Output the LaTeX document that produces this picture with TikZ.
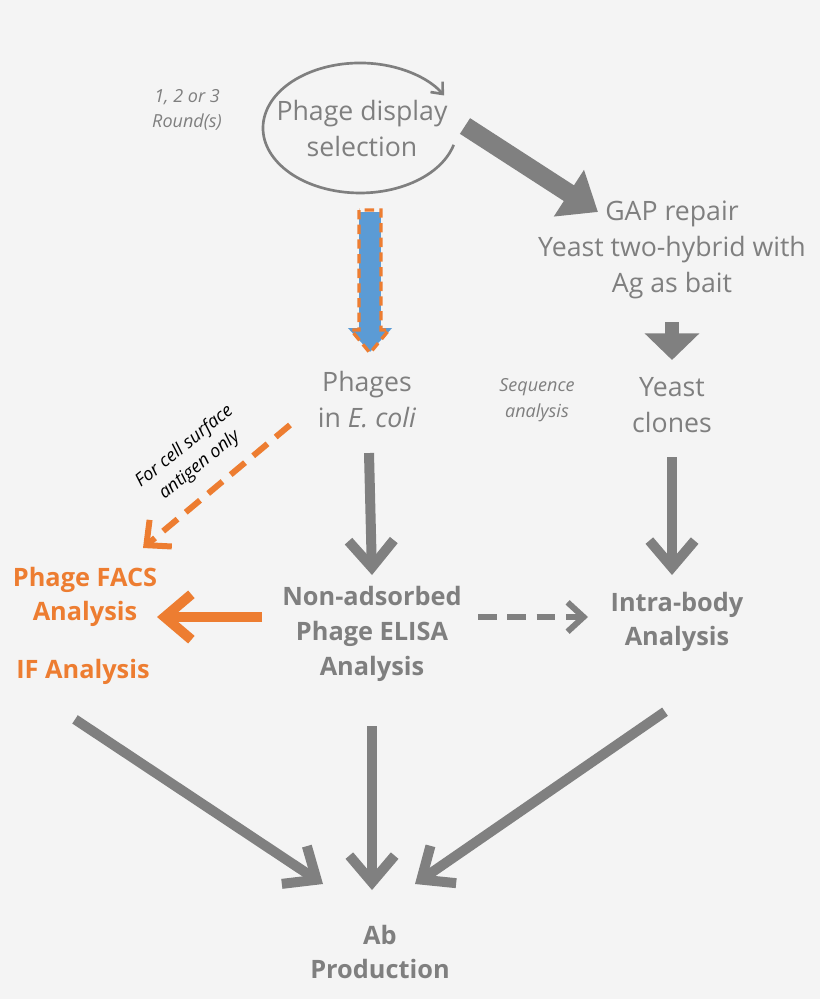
\documentclass[tikz,border=0pt]{standalone}
\usepackage{fontspec}
\setmainfont{Open Sans}
\usetikzlibrary{arrows.meta,positioning}
\definecolor{txtgray}{HTML}{7F7F7F}
\definecolor{arrgray}{HTML}{808080}
\definecolor{bgc}{HTML}{F4F4F4}
\definecolor{orng}{HTML}{ED7D31}
\definecolor{blu}{HTML}{5B9BD5}
\begin{document}
\begin{tikzpicture}[x=0.75pt,y=-0.75pt,
  lbl/.style={text=txtgray,align=center,font=\fontsize{20}{27}\selectfont},
  bold/.style={lbl,font=\fontsize{19}{26}\selectfont\bfseries},
  note/.style={text=txtgray,align=center,font=\fontsize{13.5}{19}\selectfont\itshape},
  flow/.style={draw=arrgray,line width=7.5pt,-{Straight Barb[length=20pt,width=34pt,line width=7.5pt]}},
  fat/.style={draw=arrgray,line width=14pt,-{Triangle[length=26pt,width=40pt]}}]
  \fill[bgc] (0,0) rectangle (820,999);
  \useasboundingbox (0,0) rectangle (820,999);
  % top
  \node[lbl] (sel) at (362,128) {Phage display\\selection};
  \node[note] (rnd) at (187,110) {1, 2 or 3\\Round(s)};
  \draw[txtgray,line width=2pt,-{Straight Barb[length=7pt,width=12pt]}]
    (453.7,144.8) arc[start angle=15,end angle=330,x radius=97,y radius=65];
  \node[lbl] (gap) at (672,250) {GAP repair\\Yeast two-hybrid with\\Ag as bait};
  \draw[fat] (465,126) -- (598,212);
  % middle
  \node[lbl] (phg) at (367,400) {Phages\\in \textit{E. coli}};
  \node[lbl] (yst) at (672,405) {Yeast\\clones};
  \node[note] (seq) at (537,400) {Sequence\\analysis};
  \draw[draw=blu,line width=16pt,-{Triangle[length=18pt,width=32pt]}] (370,212) -- (370,352);
  \draw[orng,line width=2.5pt,dash pattern=on 7pt off 4pt] (359,210) -- (359,330) -- (351,330) -- (370,353) -- (389,330) -- (381,330) -- (381,210) -- cycle;
  \draw[draw=arrgray,line width=11pt,-{Triangle[length=20pt,width=40pt]}] (672,322) -- (672,360);
  % lower
  \node[bold,text=orng] (facs) at (85,597) {Phage FACS\\Analysis};
  \node[bold,text=orng] (ifa) at (83,672) {IF Analysis};
  \node[bold] (elisa) at (372,634) {Non-adsorbed\\Phage ELISA\\Analysis};
  \node[bold] (intra) at (677,622) {Intra-body\\Analysis};
  \node[bold] (ab) at (380,952) {Ab\\Production};
  \node[rotate=39,font=\fontsize{13.5}{18}\selectfont\itshape,align=center] (cell) at (192,456) {For cell surface\\antigen only};
  \draw[orng,line width=4.5pt,dash pattern=on 14pt off 8pt,-{Straight Barb[length=14pt,width=26pt,line width=4.5pt]}] (290,425) -- (143,548);
  \draw[flow] (phg.south) ++(2,20) -- (372,575);
  \draw[flow] (yst.south) ++(0,20) -- (672,575);
  \draw[orng,line width=7.5pt,-{Straight Barb[length=20pt,width=34pt,line width=7.5pt]}] (262,617) -- (157,617);
  \draw[arrgray,line width=4.5pt,dash pattern=on 14pt off 8pt,-{Straight Barb[length=12pt,width=22pt,line width=4.5pt]}] (478,617) -- (588,617);
  \draw[flow] (ifa.south) ++(-8,30) -- (323,884);
  \draw[flow] (elisa.south) ++(0,40) -- (372,890);
  \draw[flow] (intra.south) ++(-12,55) -- (415,884);
\end{tikzpicture}
\end{document}
